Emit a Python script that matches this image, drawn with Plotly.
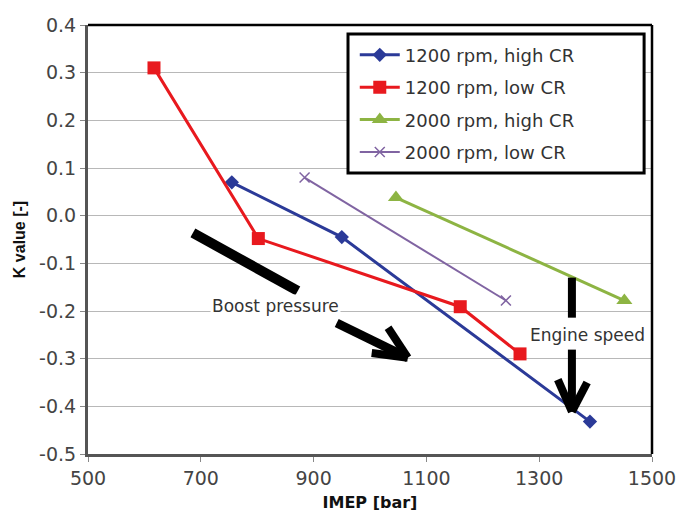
import plotly.graph_objects as go

# Data
imep_1200_high = [755, 950, 1390]
k_1200_high = [0.07, -0.045, -0.432]
imep_1200_low = [617, 802, 1160, 1266]
k_1200_low = [0.31, -0.048, -0.191, -0.29]
imep_2000_high = [1046, 1451]
k_2000_high = [0.038, -0.178]
imep_2000_low = [884, 1241]
k_2000_low = [0.08, -0.178]

series_names = ["1200 rpm, high CR", "1200 rpm, low CR", "2000 rpm, high CR", "2000 rpm, low CR"]
x_ticks = [500, 700, 900, 1100, 1300, 1500]
y_ticks = [0.4, 0.3, 0.2, 0.1, 0.0, -0.1, -0.2, -0.3, -0.4, -0.5]

FONT = "DejaVu Sans"

fig = go.Figure()
fig.add_trace(go.Scatter(x=imep_1200_high, y=k_1200_high, name=series_names[0], legendgroup="a",
                         mode="lines+markers",
                         line=dict(color="#2B3A98", width=3),
                         marker=dict(symbol="diamond", size=11, color="#2B3A98")))
fig.add_trace(go.Scatter(x=imep_1200_low, y=k_1200_low, name=series_names[1], legendgroup="b",
                         mode="lines+markers",
                         line=dict(color="#E8191E", width=3),
                         marker=dict(symbol="square", size=13, color="#E8191E")))
fig.add_trace(go.Scatter(x=imep_2000_high, y=k_2000_high, name=series_names[2], legendgroup="c",
                         mode="lines+markers",
                         line=dict(color="#8DB443", width=3),
                         marker=dict(symbol="triangle-up", size=14, color="#8DB443")))
fig.add_trace(go.Scatter(x=imep_2000_low, y=k_2000_low, name=series_names[3], legendgroup="d",
                         mode="lines+markers",
                         line=dict(color="#8064A2", width=2),
                         marker=dict(symbol="x-thin", size=10, color="#8064A2",
                                     line=dict(color="#8064A2", width=1.5))))

shapes = []
def seg(x0, y0, x1, y1, w):
    shapes.append(dict(type="line", xref="x", yref="y", x0=x0, y0=y0, x1=x1, y1=y1,
                       line=dict(color="black", width=w), layer="above"))

# Boost pressure arrow
seg(686, -0.036, 872, -0.158, 10)
seg(941, -0.225, 1067, -0.298, 9)
seg(1003, -0.288, 1067, -0.298, 8)
seg(1032, -0.235, 1067, -0.298, 8)
# Engine speed arrow
seg(1358, -0.130, 1358, -0.214, 8)
seg(1358, -0.281, 1358, -0.411, 8)
seg(1333, -0.344, 1358, -0.411, 8)
seg(1385, -0.350, 1358, -0.411, 8)

# legend box
shapes.append(dict(type="rect", xref="paper", yref="paper", x0=0.461, x1=0.986, y0=0.655, y1=0.979,
                   line=dict(color="black", width=3), fillcolor="white", layer="above"))
# top & right frame lines (black)
shapes.append(dict(type="line", xref="paper", yref="paper", x0=0, y0=1, x1=1, y1=1,
                   line=dict(color="black", width=2.5)))
shapes.append(dict(type="line", xref="paper", yref="paper", x0=1, y0=0, x1=1, y1=1,
                   line=dict(color="black", width=2.5)))

fig.update_layout(
    width=680, height=513,
    margin=dict(l=88, r=28, t=25, b=59, autoexpand=False),
    paper_bgcolor="white", plot_bgcolor="white",
    font=dict(family=FONT, color="#444"),
    shapes=shapes,
    showlegend=True,
    legend=dict(x=0.473, y=0.973, xanchor="left", yanchor="top",
                borderwidth=0, bgcolor="rgba(0,0,0,0)",
                font=dict(family=FONT, size=18, color="#333"),
                tracegroupgap=6, itemwidth=40),
    annotations=[
        dict(x=833, y=-0.189, xref="x", yref="y", text="Boost pressure", showarrow=False,
             font=dict(family=FONT, size=17, color="#333"), bgcolor="white"),
        dict(x=1385, y=-0.25, xref="x", yref="y", text="Engine speed", showarrow=False,
             font=dict(family=FONT, size=17, color="#333")),
    ],
)
fig.update_xaxes(range=[500, 1500], tickvals=x_ticks, ticktext=[str(v) for v in x_ticks],
                 automargin=False,
                 showgrid=False, zeroline=False, showline=True, linecolor="#555", linewidth=3,
                 ticks="outside", ticklen=5, tickcolor="#888", tickwidth=1,
                 tickfont=dict(family=FONT, size=19, color="#444"),
                 title=dict(text="<b>IMEP [bar]</b>", font=dict(family=FONT, size=16, color="#111"),
                            standoff=10))
fig.update_yaxes(range=[-0.5, 0.4], tickvals=y_ticks, ticktext=[f"{v:.1f}" for v in y_ticks],
                 automargin=False,
                 showgrid=True, gridcolor="#B8B8B8", gridwidth=1.2, zeroline=False,
                 showline=True, linecolor="#555", linewidth=3,
                 ticks="outside", ticklen=5, tickcolor="#888", tickwidth=1,
                 tickfont=dict(family=FONT, size=19, color="#444"),
                 title=dict(text="<b>K value [-]</b>", font=dict(family="Liberation Sans", size=16, color="#111"),
                            standoff=10))

fig.write_html("out.html")
